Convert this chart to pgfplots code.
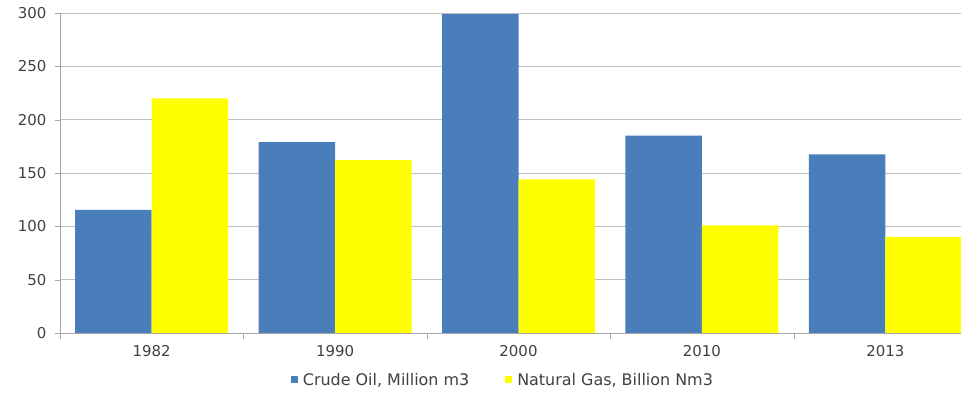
\documentclass[border=0pt]{standalone}
\usepackage{fontspec}
\setmainfont{DejaVu Sans}
\usepackage{pgfplots}
\pgfplotsset{compat=1.18}
\definecolor{oilblue}{HTML}{4A7EBB}
\definecolor{gasyellow}{HTML}{FFFF00}
\definecolor{gridgray}{HTML}{BFBFBF}
\definecolor{axisgray}{HTML}{A6A6A6}
\definecolor{txt}{HTML}{404040}
\begin{document}
\begin{tikzpicture}
\path[use as bounding box] (0,0) rectangle (961bp,400bp);
\begin{axis}[
  at={(60bp,67bp)}, anchor=south west,
  scale only axis, width=917bp, height=320bp,
  xmin=-0.5, xmax=4.5, ymin=0, ymax=300,
  ytick={0,50,...,300},
  xtick={0,...,4},
  xticklabels={1982,1990,2000,2010,2013},
  minor xtick={-0.5,0.5,...,4.5},
  major x tick style={draw=none},
  minor tick length=6bp, major tick length=5bp,
  tick align=outside,
  tick style={axisgray},
  axis x line*=bottom, axis y line*=left,
  axis line style={axisgray, line width=0.8pt},
  ymajorgrids, grid style={gridgray, line width=0.8pt},
  tick label style={font=\fontsize{15}{17}\selectfont, text=txt},
  yticklabel style={xshift=-5bp},
  xticklabel style={yshift=-4bp},
  /pgf/number format/assume math mode=true,
  legend columns=2,
  legend style={at={(0.483,-0.147)}, anchor=center, draw=none,
    font=\fontsize{16}{18}\selectfont, text=txt,
    /tikz/every even column/.append style={column sep=34bp}},
  legend image code/.code={\fill[#1] (0bp,-2.5bp) rectangle (7bp,4.5bp);},
]
\addplot[ybar, bar width=0.417, bar shift=-0.2085, fill=oilblue, draw=none]
  coordinates {(0,115.5) (1,179) (2,299) (3,185) (4,167.5)};
\addlegendentry{\hspace{3bp}Crude Oil, Million m3}
\addplot[ybar, bar width=0.417, bar shift=0.2085, fill=gasyellow, draw=none]
  coordinates {(0,220) (1,162) (2,144) (3,101) (4,90)};
\addlegendentry{\hspace{3bp}Natural Gas, Billion Nm3}
\end{axis}
\end{tikzpicture}
\end{document}
